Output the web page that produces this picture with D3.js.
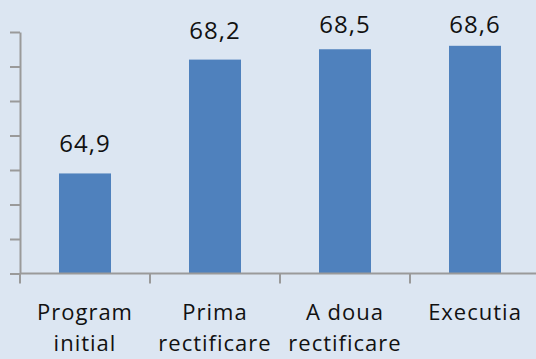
<!DOCTYPE html>
<html>
<head>
<meta charset="utf-8">
<script src="https://cdn.jsdelivr.net/npm/d3@7"></script>
<style>
  body { margin: 0; background: #dce6f2; }
  svg { display: block; font-family: "Open Sans", sans-serif; }
</style>
</head>
<body>
<svg id="chart" width="536" height="359"></svg>
<script>
// data
var categories = ["Program initial", "Prima rectificare", "A doua rectificare", "Executia"];
var label_lines = [["Program", "initial"], ["Prima", "rectificare"], ["A doua", "rectificare"], ["Executia"]];
var values = [64.9, 68.2, 68.5, 68.6];
var y_ticks = [62, 63, 64, 65, 66, 67, 68, 69];

var width = 536, height = 359;
var left_x = 20, right_x = 540;
var base_y = 273.5, top_y = 32;

var svg = d3.select("#chart");

svg.append("rect").attr("width", width).attr("height", height).attr("fill", "#dce6f2");

var x = d3.scaleBand().domain(categories).range([left_x, right_x]).paddingInner(0.6).paddingOuter(0.3);
var y = d3.scaleLinear().domain([62, 69]).range([base_y, top_y]);

// bars
svg.selectAll("rect.bar").data(values).enter().append("rect")
	.attr("class", "bar")
	.attr("x", function(d, i){ return x(categories[i]); })
	.attr("width", x.bandwidth())
	.attr("y", function(d){ return y(d); })
	.attr("height", function(d){ return base_y - y(d); })
	.attr("fill", "#4f81bd");

// y axis, no labels
var yAxis = svg.append("g")
	.attr("transform", "translate(" + left_x + ",0)")
	.call(d3.axisLeft(y).tickValues(y_ticks).tickFormat("").tickSize(10).tickSizeOuter(0));
yAxis.selectAll("path, line").attr("stroke", "#9a9a9a").attr("stroke-width", 2);

// x baseline and ticks between categories
var step = x.step();
svg.append("line")
	.attr("x1", left_x).attr("x2", width)
	.attr("y1", base_y).attr("y2", base_y)
	.attr("stroke", "#9a9a9a").attr("stroke-width", 2);
svg.selectAll("line.xtick").data(d3.range(categories.length)).enter().append("line")
	.attr("class", "xtick")
	.attr("x1", function(i){ return left_x + i * step; })
	.attr("x2", function(i){ return left_x + i * step; })
	.attr("y1", base_y).attr("y2", base_y + 10)
	.attr("stroke", "#9a9a9a").attr("stroke-width", 2);

// value labels (clamped near the top like the original)
svg.selectAll("text.val").data(values).enter().append("text")
	.attr("class", "val")
	.attr("x", function(d, i){ return x(categories[i]) + x.bandwidth() / 2; })
	.attr("y", function(d){ return Math.max(y(d) - 21, 33); })
	.attr("text-anchor", "middle")
	.attr("font-size", 24)
	.attr("letter-spacing", 1)
	.attr("fill", "#111")
	.text(function(d){ return String(d).replace(".", ","); });

// category labels
var cat = svg.selectAll("text.cat").data(label_lines).enter().append("text")
	.attr("class", "cat")
	.attr("text-anchor", "middle")
	.attr("font-size", 22)
	.attr("letter-spacing", 1)
	.attr("fill", "#111");
cat.each(function(lines, i){
	var t = d3.select(this);
	lines.forEach(function(s, j){
		t.append("tspan")
			.attr("x", x(categories[i]) + x.bandwidth() / 2)
			.attr("y", 320 + j * 31)
			.text(s);
	});
});
</script>
</body>
</html>
